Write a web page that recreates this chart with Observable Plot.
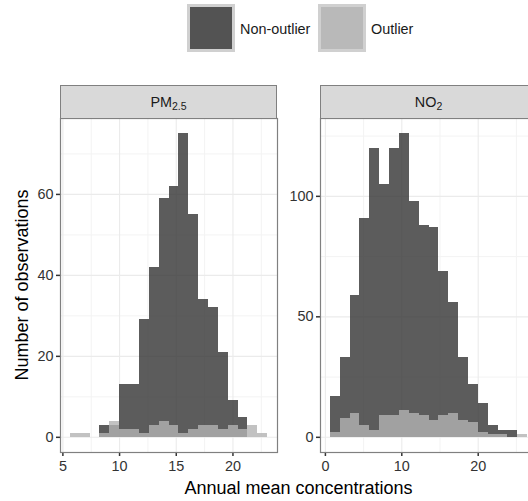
<!DOCTYPE html>
<html>
<head>
<meta charset="utf-8">
<script src="https://cdn.jsdelivr.net/npm/d3@7"></script>
<script src="https://cdn.jsdelivr.net/npm/@observablehq/plot@0.6"></script>
<style>
  html, body { margin: 0; padding: 0; background: #fff; }
  #wrap { position: relative; width: 528px; height: 501px; overflow: hidden; font-family: "Liberation Sans", Arial, sans-serif; color: #1a1a1a; }
  .abs { position: absolute; }
  .key { position: absolute; width: 48px; height: 48px; background: #d0d0d0; }
  .key > div { position: absolute; left: 3px; top: 3px; width: 42px; height: 42px; }
  .ltxt { position: absolute; font-size: 14.4px; line-height: 16px; top: 21px; color: #1a1a1a; }
  .strip { position: absolute; top: 85px; width: 217px; height: 34px; box-sizing: border-box; background: #d9d9d9; border: 1px solid #808080; font-size: 14.4px; text-align: center; line-height: 32px; color: #1a1a1a; }
  .strip sub { font-size: 10.5px; vertical-align: -3px; line-height: 0; }
  svg [aria-label$="axis tick"] path, svg [aria-label$="-axis"] line { stroke: #333; stroke-width: 1.5px; }
</style>
</head>
<body>
<div id="wrap"></div>
<script>
// ---- data ----
const groups = ["Non-outlier", "Outlier"];
const groupFill = ["#333333", "#B3B3B3"];

// PM2.5 histogram: 20 bins starting at 5.66, width 0.87
const pm25BinStart = 5.66;
const pm25BinWidth = 0.87;
const pm25NonOutlier = [0, 0, 0, 3, 3, 13, 13, 29, 42, 59, 62, 75, 55, 34, 32, 21, 9, 5, 0, 0];
const pm25Outlier    = [1, 1, 0, 1, 4, 2, 2, 1, 3, 4, 3, 1, 2, 3, 3, 2, 3, 2, 3, 1];
const pm25XTicks = [5, 10, 15, 20];
const pm25XMinor = [7.5, 12.5, 17.5, 22.5];
const pm25YTicks = [0, 20, 40, 60];
const pm25YMinor = [10, 30, 50, 70];

// NO2 histogram: 20 bins starting at 0.65, width 1.291
const no2BinStart = 0.65;
const no2BinWidth = 1.291;
const no2NonOutlier = [17, 33, 59, 91, 120, 105, 120, 126, 98, 88, 87, 69, 56, 33, 22, 14, 5, 3, 3, 0];
const no2Outlier    = [2, 8, 10, 5, 3, 9, 9, 11, 10, 9, 7, 9, 10, 7, 6, 2, 1, 1, 0, 1];
const no2XTicks = [0, 10, 20];
const no2XMinor = [5, 15, 25];
const no2YTicks = [0, 50, 100];
const no2YMinor = [25, 75, 125];

const xTitle = "Annual mean concentrations";
const yTitle = "Number of observations";

// ---- build ----
const wrap = document.getElementById("wrap");

function rows(start, width, series) {
  const out = [];
  series.forEach((vals, gi) => {
    vals.forEach((v, i) => {
      if (v > 0) out.push({group: groups[gi], x1: start + i * width, x2: start + (i + 1) * width, count: v});
    });
  });
  return out;
}

function panel(cfg) {
  const data = rows(cfg.start, cfg.width, [cfg.non, cfg.out]);
  const n = cfg.non.length;
  const lo = cfg.start, hi = cfg.start + n * cfg.width;
  const pad = (hi - lo) * 0.05;
  const ymax = d3.max([...cfg.non, ...cfg.out]);
  const svg = Plot.plot({
    width: 280,
    height: 364,
    marginLeft: 60,
    marginRight: 3,
    marginTop: 2,
    marginBottom: 28,
    style: {fontFamily: "Liberation Sans, Arial, sans-serif", fontSize: "14.4px", color: "#333", background: "transparent", overflow: "visible"},
    x: {domain: [lo - pad, hi + pad], ticks: cfg.xt, tickFormat: d3.format("d"), tickSize: 4, tickPadding: 4, label: null},
    y: {domain: [-0.05 * ymax, 1.05 * ymax], ticks: cfg.yt, tickFormat: d3.format("d"), tickSize: 4, tickPadding: 3, label: null},
    color: {domain: groups, range: groupFill},
    marks: [
      Plot.ruleX(cfg.xm, {stroke: "#f3f3f3", strokeWidth: 1}),
      Plot.ruleY(cfg.ym, {stroke: "#f3f3f3", strokeWidth: 1}),
      Plot.ruleX(cfg.xt, {stroke: "#ebebeb", strokeWidth: 1.1}),
      Plot.ruleY(cfg.yt, {stroke: "#ebebeb", strokeWidth: 1.1}),
      Plot.rect(data, {x1: "x1", x2: "x2", y1: 0, y2: "count", fill: "group", fillOpacity: 0.8, inset: 0, shapeRendering: "crispEdges"}),
      Plot.frame({stroke: "#808080", strokeWidth: 1.2})
    ]
  });
  svg.style.position = "absolute";
  svg.style.left = cfg.left + "px";
  svg.style.top = "116px";
  wrap.appendChild(svg);
}

panel({start: pm25BinStart, width: pm25BinWidth, non: pm25NonOutlier, out: pm25Outlier,
       xt: pm25XTicks, xm: pm25XMinor, yt: pm25YTicks, ym: pm25YMinor, left: 0});
panel({start: no2BinStart, width: no2BinWidth, non: no2NonOutlier, out: no2Outlier,
       xt: no2XTicks, xm: no2XMinor, yt: no2YTicks, ym: no2YMinor, left: 260});

// strips
const s1 = document.createElement("div");
s1.className = "strip"; s1.style.left = "60px"; s1.innerHTML = "PM<sub>2.5</sub>";
wrap.appendChild(s1);
const s2 = document.createElement("div");
s2.className = "strip"; s2.style.left = "320px"; s2.innerHTML = "NO<sub>2</sub>";
wrap.appendChild(s2);

// legend
const keyLefts = [187, 318];
const textLefts = [240, 371];
groups.forEach((g, i) => {
  const k = document.createElement("div");
  k.className = "key"; k.style.left = keyLefts[i] + "px"; k.style.top = "4px";
  const inner = document.createElement("div");
  inner.style.background = groupFill[i];
  inner.style.opacity = 0.8;
  k.appendChild(inner);
  wrap.appendChild(k);
  const t = document.createElement("div");
  t.className = "ltxt"; t.style.left = textLefts[i] + "px"; t.textContent = g;
  wrap.appendChild(t);
});

// axis titles
const xt = document.createElement("div");
xt.className = "abs";
Object.assign(xt.style, {left: "60px", width: "477px", top: "478px", textAlign: "center", fontSize: "18px", lineHeight: "20px", color: "#000"});
xt.textContent = xTitle;
wrap.appendChild(xt);

const yt = document.createElement("div");
yt.className = "abs";
Object.assign(yt.style, {left: "22px", top: "285px", width: "300px", marginLeft: "-150px", marginTop: "-10px", textAlign: "center", fontSize: "18px", lineHeight: "20px", color: "#000", transform: "rotate(-90deg)"});
yt.textContent = yTitle;
wrap.appendChild(yt);
</script>
</body>
</html>
